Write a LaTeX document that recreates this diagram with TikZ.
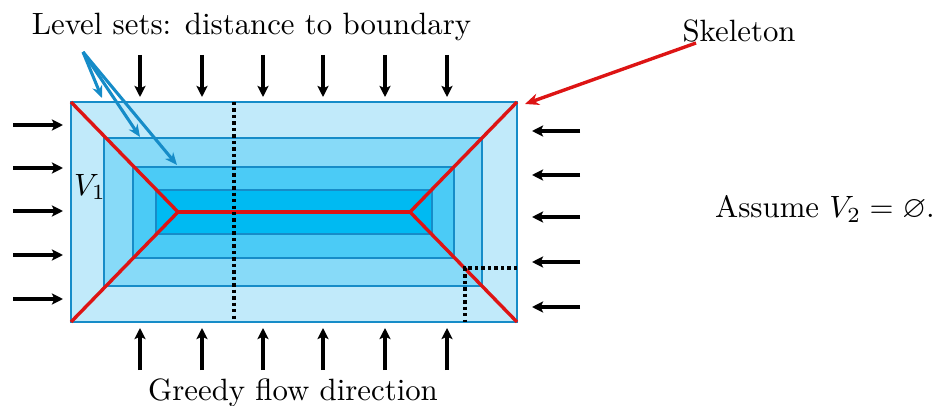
\documentclass[tikz,border=0pt]{standalone}
\usepackage{amsmath}
\usepackage{amssymb}
\usepackage{xcolor}
\usepackage{tikz}
\usetikzlibrary{arrows.meta}
\definecolor{lvlzero}{RGB}{193,234,250}
\definecolor{lvlone}{RGB}{135,218,248}
\definecolor{lvltwo}{RGB}{75,203,246}
\definecolor{lvlthree}{RGB}{0,186,242}
\definecolor{lvledge}{RGB}{22,140,200}
\definecolor{skelred}{RGB}{221,20,20}

\begin{document}
\begin{tikzpicture}[x=0.3245pt,y=-0.3245pt,
    flow/.style={-{Stealth[length=3.6pt,width=3.6pt,inset=0.8pt]},line width=1pt},
    lvlset/.style={draw=lvledge,line width=0.7pt},
    lvlarrow/.style={lvledge,line width=1pt,-{Stealth[length=4pt,width=3.4pt]}},
    skel/.style={skelred,line width=1.1pt},
    dist/.style={line width=1.1pt,dash pattern=on 1.1pt off 1pt}]
\useasboundingbox (0,0) rectangle (937,406);
            \coordinate (nw) at (71,102);
            \coordinate (sw) at (71,322);
            \coordinate (ne) at (517,102);
            \coordinate (se) at (517,322);
            \coordinate (jl) at (178,212);
            \coordinate (jr) at (410,212);
            \fill[lvlzero,lvlset] (nw) rectangle (se);
            \fill[lvlone,lvlset] (104,138) rectangle (482,286);
            \fill[lvltwo,lvlset] (133,167) rectangle (454,258);
            \fill[lvlthree,lvlset] (156,190) rectangle (432,234);
            \draw[skel] (nw) -- (jl) -- (sw);
            \draw[skel] (jl) -- (jr);
            \draw[skel] (ne) -- (jr) -- (se);
            \draw[dist] (234,102) -- (234,322);
            \draw[dist] (517,268) -- (465,268) -- (465,322);
            \foreach \x in {140,202,263,323,385,447} {
                \draw[flow] (\x,55) -- (\x,97);
                \draw[flow] (\x,370) -- (\x,328);
            }
            \foreach \y in {125,168,211,255,299} \draw[flow] (13,\y) -- (63,\y);
            \foreach \y in {131,175,217,262,307} \draw[flow] (580,\y) -- (532,\y);
            \node[anchor=base] (lvltxt) at (251.5,35) {Level sets: distance to boundary};
            \node[anchor=base] (skeltxt) at (739,42) {Skeleton};
            \node[anchor=base] (flowtxt) at (293,400) {Greedy flow direction};
            \node[anchor=base] (assume) at (825,218) {Assume $V_2=\varnothing$.};
            \node[anchor=base] (vone) at (90,195) {$V_1$};
            \coordinate (lvltail) at (83,52);
            \coordinate (lvltip0) at (102,98);
            \coordinate (lvltip1) at (140,137);
            \coordinate (lvltip2) at (177,165);
            \foreach \t in {0,1,2} \draw[lvlarrow] (lvltail) -- (lvltip\t);
            \coordinate (skeltail) at (696,43);
            \coordinate (skeltip) at (525,104);
            \draw[skel,-{Stealth[length=4.5pt,width=3.8pt]}] (skeltail) -- (skeltip);
        \end{tikzpicture}
\end{document}
